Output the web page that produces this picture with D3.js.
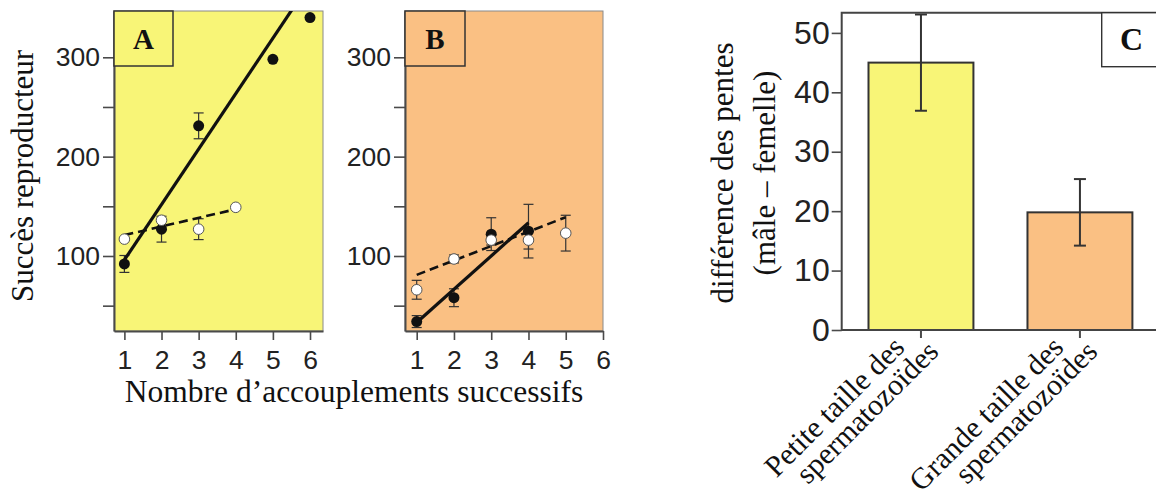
<!DOCTYPE html>
<html>
<head>
<meta charset="utf-8">
<script src="https://cdn.jsdelivr.net/npm/d3@7"></script>
<style>
  body { margin: 0; background: #fff; }
  svg { display: block; }
</style>
</head>
<body>
<script>
// ---- values ----
const matingTicks = [1, 2, 3, 4, 5, 6];
const yTicksAB = [50, 100, 150, 200, 250, 300];
const yDomAB = [24.5, 346.6];

// panel A : small sperm
const maleA_x = [1, 2, 3, 5, 6];
const maleA_y = [92, 127, 231, 298, 340];
const maleA_se = [8.5, 13, 13, 0, 0];
const femaleA_x = [1, 2, 3, 4];
const femaleA_y = [117, 136, 127, 149];
const femaleA_se = [0, 0, 10.5, 0];
// fitted lines : value at x = 1, slope per mating
const fitMaleA = [96, 55.8];
const fitMaleA_span = [1, 6];
const fitFemaleA = [121, 8.7];
const fitFemaleA_span = [1, 4];

// panel B : large sperm
const maleB_x = [1, 2, 3, 4];
const maleB_y = [34, 58, 122, 125];
const maleB_se = [6, 9, 16.5, 27];
const femaleB_x = [1, 2, 3, 4, 5];
const femaleB_y = [66, 97, 116, 116, 123];
const femaleB_se = [9.5, 4, 5, 9, 18];
const fitMaleB = [33, 33.5];
const fitMaleB_span = [1, 4];
const fitFemaleB = [81, 14.5];
const fitFemaleB_span = [1, 5];

// panel C : slope difference
const groupLine1 = ["Petite taille des", "Grande taille des"];
const groupLine2 = ["spermatozoïdes", "spermatozoïdes"];
const slopeDiff = [45, 19.8];
const slopeDiffSe = [8.1, 5.6];
const yTicksC = [0, 10, 20, 30, 40, 50];

// ---- drawing ----
const W = 1156, H = 498;
const serif = "'Liberation Serif','Times New Roman',serif";
const sans = "'Liberation Sans',Arial,Helvetica,sans-serif";
const axisCol = "#4a4a4a";
const yellow = "#f8f577";
const orange = "#fac083";

const svg = d3.select("body").append("svg")
  .attr("width", W).attr("height", H)
  .style("background", "#fff");

const plotTop = 11, plotBottom = 331;

function styleAxis(sel, fontSize) {
  sel.select(".domain").attr("stroke", axisCol).attr("stroke-width", 2);
  sel.selectAll(".tick line").attr("stroke", axisCol).attr("stroke-width", 1.6);
  sel.selectAll(".tick text")
    .attr("fill", "#222")
    .style("font-family", sans)
    .style("font-size", fontSize + "px");
}

function scatterPanel(p) {
  const x = d3.scaleLinear().domain(p.xDom).range([p.left, p.right]);
  const y = d3.scaleLinear().domain(yDomAB).range([plotBottom, plotTop]);
  const g = svg.append("g");

  g.append("rect")
    .attr("x", p.left).attr("y", plotTop)
    .attr("width", p.right - p.left).attr("height", plotBottom - plotTop)
    .attr("fill", p.fill).attr("stroke", "#8a8a8a").attr("stroke-width", 1);

  const clipId = "clip" + p.name;
  g.append("clipPath").attr("id", clipId).append("rect")
    .attr("x", p.left).attr("y", plotTop)
    .attr("width", p.right - p.left).attr("height", plotBottom - plotTop);
  const inner = g.append("g").attr("clip-path", "url(#" + clipId + ")");

  // error bars
  function errBars(xs, ys, se) {
    const d = xs.map((v, i) => ({ x: v, y: ys[i], se: se[i] })).filter(d => d.se > 0);
    const eb = inner.append("g").attr("stroke", "#333").attr("stroke-width", 1.2);
    eb.selectAll(".v").data(d).enter().append("line")
      .attr("x1", d => x(d.x)).attr("x2", d => x(d.x))
      .attr("y1", d => y(d.y - d.se)).attr("y2", d => y(d.y + d.se));
    [-1, 1].forEach(s => {
      eb.selectAll(".c" + s).data(d).enter().append("line")
        .attr("x1", d => x(d.x) - 5).attr("x2", d => x(d.x) + 5)
        .attr("y1", d => y(d.y + s * d.se)).attr("y2", d => y(d.y + s * d.se));
    });
  }
  errBars(p.fx, p.fy, p.fse);
  errBars(p.mx, p.my, p.mse);

  // fitted lines
  const line = d3.line().x(d => x(d[0])).y(d => y(d[1]));
  const fitPts = (fit, span) => span.map(v => [v, fit[0] + fit[1] * (v - 1)]);
  inner.append("path").attr("d", line(fitPts(p.ffit, p.fspan)))
    .attr("fill", "none").attr("stroke", "#111").attr("stroke-width", 2.6)
    .attr("stroke-dasharray", "9,5");
  inner.append("path").attr("d", line(fitPts(p.mfit, p.mspan)))
    .attr("fill", "none").attr("stroke", "#111").attr("stroke-width", 3.2);

  // points
  inner.selectAll(".m").data(p.mx).enter().append("circle")
    .attr("cx", d => x(d)).attr("cy", (d, i) => y(p.my[i])).attr("r", 5.5)
    .attr("fill", "#111");
  inner.selectAll(".f").data(p.fx).enter().append("circle")
    .attr("cx", d => x(d)).attr("cy", (d, i) => y(p.fy[i])).attr("r", 5.3)
    .attr("fill", "#fff").attr("stroke", "#555").attr("stroke-width", 1);

  // axes
  g.append("g").attr("transform", "translate(" + p.left + ",0)")
    .call(d3.axisLeft(y).tickValues(yTicksAB).tickFormat(d => d % 100 ? "" : d)
      .tickSize(11).tickPadding(3).tickSizeOuter(0))
    .call(s => styleAxis(s, 26.5));
  g.append("g").attr("transform", "translate(0," + plotBottom + ")")
    .call(d3.axisBottom(x).tickValues(matingTicks).tickFormat(d3.format("d"))
      .tickSize(9).tickPadding(10).tickSizeOuter(0))
    .call(s => styleAxis(s, 26.5));

  // panel letter box
  g.append("rect").attr("x", p.left).attr("y", plotTop)
    .attr("width", p.boxW).attr("height", p.boxH)
    .attr("fill", p.fill).attr("stroke", "#333").attr("stroke-width", 1.5);
  g.append("text").attr("x", p.left + p.boxW / 2).attr("y", plotTop + p.boxH / 2 + 10)
    .attr("text-anchor", "middle")
    .style("font-family", serif).style("font-weight", "bold").style("font-size", "29px")
    .attr("fill", "#111").text(p.name);
}

scatterPanel({
  name: "A", fill: yellow, left: 114, right: 323, xDom: [0.72, 6.35],
  boxW: 59, boxH: 55,
  mx: maleA_x, my: maleA_y, mse: maleA_se, mfit: fitMaleA, mspan: fitMaleA_span,
  fx: femaleA_x, fy: femaleA_y, fse: femaleA_se, ffit: fitFemaleA, fspan: fitFemaleA_span
});
scatterPanel({
  name: "B", fill: orange, left: 405, right: 603, xDom: [0.686, 6.0],
  boxW: 60, boxH: 55,
  mx: maleB_x, my: maleB_y, mse: maleB_se, mfit: fitMaleB, mspan: fitMaleB_span,
  fx: femaleB_x, fy: femaleB_y, fse: femaleB_se, ffit: fitFemaleB, fspan: fitFemaleB_span
});

// shared labels for A and B
svg.append("text")
  .attr("transform", "translate(33,176) rotate(-90)")
  .attr("text-anchor", "middle")
  .style("font-family", serif).style("font-size", "31px").attr("fill", "#111")
  .text("Succès reproducteur");
svg.append("text")
  .attr("x", 354).attr("y", 402)
  .attr("text-anchor", "middle")
  .style("font-family", serif).style("font-size", "31.5px").attr("fill", "#111")
  .text("Nombre d\u2019accouplements successifs");

// ---- panel C ----
const cLeft = 841.7, cTop = 12.7, cBottom = 330;
const xC = d3.scaleBand().domain(groupLine1).range([cLeft, 1159.2])
  .paddingInner(0.34).paddingOuter(0.1686);
const yC = d3.scaleLinear().domain([0, 53.4]).range([cBottom, cTop]);
const gC = svg.append("g");

gC.selectAll(".bar").data(slopeDiff).enter().append("rect")
  .attr("x", (d, i) => xC(groupLine1[i]))
  .attr("y", d => yC(d))
  .attr("width", xC.bandwidth())
  .attr("height", d => yC(0) - yC(d))
  .attr("fill", (d, i) => i === 0 ? yellow : orange)
  .attr("stroke", "#333").attr("stroke-width", 2);

const ebC = gC.append("g").attr("stroke", "#333").attr("stroke-width", 2);
slopeDiff.forEach((v, i) => {
  const cx = xC(groupLine1[i]) + xC.bandwidth() / 2;
  ebC.append("line").attr("x1", cx).attr("x2", cx)
    .attr("y1", yC(v - slopeDiffSe[i])).attr("y2", yC(v + slopeDiffSe[i]));
  [-1, 1].forEach(s => ebC.append("line")
    .attr("x1", cx - 6).attr("x2", cx + 6)
    .attr("y1", yC(v + s * slopeDiffSe[i])).attr("y2", yC(v + s * slopeDiffSe[i])));
});

// frame (right side runs past the window)
gC.append("path")
  .attr("d", "M1180," + cTop + "H" + cLeft + "V" + cBottom + "H1180")
  .attr("fill", "none").attr("stroke", "#444").attr("stroke-width", 2);

gC.append("g").attr("transform", "translate(" + cLeft + ",0)")
  .call(d3.axisLeft(yC).tickValues(yTicksC).tickSize(10).tickPadding(2).tickSizeOuter(0))
  .call(s => styleAxis(s, 32))
  .call(s => s.select(".domain").remove());

const xAxC = gC.append("g").attr("transform", "translate(0," + cBottom + ")")
  .call(d3.axisBottom(xC).tickSize(8).tickSizeOuter(0).tickFormat(""));
xAxC.select(".domain").remove();
xAxC.selectAll(".tick line").attr("stroke", axisCol).attr("stroke-width", 2);

groupLine1.forEach((lab, i) => {
  const cx = xC(lab) + xC.bandwidth() / 2;
  const t = gC.append("g")
    .attr("transform", "translate(" + cx + "," + (cBottom + 7) + ") rotate(-45)")
    .style("font-family", serif).style("font-size", "30px").attr("fill", "#111");
  t.append("text").attr("x", -19).attr("y", -2).attr("text-anchor", "end").text(lab);
  t.append("text").attr("x", 2).attr("y", 25).attr("text-anchor", "end").text(groupLine2[i]);
});

// C letter box
gC.append("rect").attr("x", 1101.7).attr("y", cTop).attr("width", 80).attr("height", 54)
  .attr("fill", "#fff").attr("stroke", "#333").attr("stroke-width", 1.4);
gC.append("text").attr("x", 1131.5).attr("y", 50)
  .attr("text-anchor", "middle")
  .style("font-family", serif).style("font-weight", "bold").style("font-size", "32px")
  .attr("fill", "#111").text("C");

// y label for C (two lines)
gC.append("text")
  .attr("transform", "translate(733,173) rotate(-90)")
  .attr("text-anchor", "middle")
  .style("font-family", serif).style("font-size", "31px").attr("fill", "#111")
  .text("différence des pentes");
gC.append("text")
  .attr("transform", "translate(775,173) rotate(-90)")
  .attr("text-anchor", "middle")
  .style("font-family", serif).style("font-size", "31px").attr("fill", "#111")
  .text("(mâle \u2013 femelle)");
</script>
</body>
</html>
